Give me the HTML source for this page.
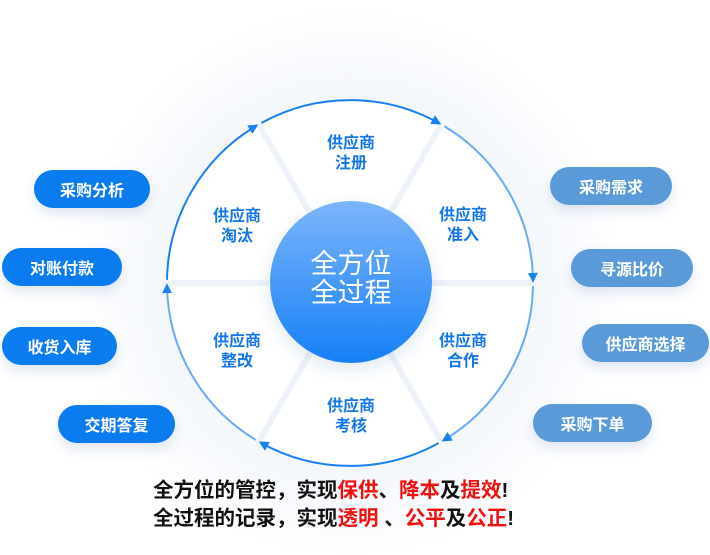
<!DOCTYPE html>
<html><head><meta charset="utf-8"><style>
html,body{margin:0;padding:0;background:#fff;}
body{width:710px;height:555px;position:relative;overflow:hidden;font-family:"Liberation Sans","Noto Sans CJK SC",sans-serif;}
.pill{position:absolute;height:38px;border-radius:19px;color:#fff;font-size:16px;font-weight:bold;display:flex;align-items:center;justify-content:center;box-shadow:0 6px 12px rgba(40,90,160,0.15);}
.l{background:#0b7cf0;}
.r{background:#5a9ad8;}
.bt{position:absolute;left:153px;font-size:20.5px;font-weight:bold;color:#111;line-height:28px;white-space:nowrap;}
.red{color:#f01010;}
</style></head><body>
<svg width="710" height="555" style="position:absolute;left:0;top:0">
<defs>
<radialGradient id="bg" cx="50%" cy="50%" r="50%">
<stop offset="0.7" stop-color="#f4f7fc"/><stop offset="1" stop-color="#ffffff"/>
</radialGradient>
<linearGradient id="cg" x1="0" y1="0" x2="0" y2="1">
<stop offset="0" stop-color="#7cb4fb"/><stop offset="1" stop-color="#1680f6"/>
</linearGradient>
<marker id="ah" markerWidth="10" markerHeight="10" refX="7" refY="5" orient="auto" markerUnits="userSpaceOnUse">
<path d="M0,0 L10,5 L0,10 Z" fill="#1a7ff0"/>
</marker>
<filter id="sh" x="-20%" y="-20%" width="140%" height="140%"><feDropShadow dx="0" dy="6" stdDeviation="8" flood-color="#2a5fa8" flood-opacity="0.15"/></filter>
</defs>
<circle cx="350" cy="283" r="275" fill="url(#bg)"/>
<circle cx="350" cy="283" r="183" fill="#fff"/>
<g stroke="#edf2f9" stroke-width="6">
<line x1="431" y1="283" x2="533" y2="283"/>
<line x1="269" y1="283" x2="167" y2="283"/>
<line x1="390" y1="213" x2="441" y2="125"/>
<line x1="310" y1="213" x2="259" y2="125"/>
<line x1="390" y1="353" x2="441" y2="441"/>
<line x1="310" y1="353" x2="259" y2="441"/>
</g>
<g fill="none" stroke="#1a7ff0" stroke-width="2" marker-end="url(#ah)">
<path d="M261.3,123 A183,183 0 0 1 438.7,123"/>
<path d="M444.2,126.1 A183,183 0 0 1 533,279.8" stroke="#6aaaf5"/>
<path d="M533,286.2 A183,183 0 0 1 444.2,439.9" stroke="#6aaaf5"/>
<path d="M438.7,443 A183,183 0 0 1 261.3,443"/>
<path d="M255.8,439.9 A183,183 0 0 1 167,286.2" stroke="#6aaaf5"/>
<path d="M167,279.8 A183,183 0 0 1 255.8,126.1"/>
</g>
<circle cx="351" cy="282" r="81" fill="url(#cg)" filter="url(#sh)"/>
<g fill="#fff" font-size="27" text-anchor="middle" font-family="Liberation Sans,Noto Sans CJK SC,sans-serif">
<text x="351" y="273">全方位</text>
<text x="351" y="302">全过程</text>
</g>
<g fill="#1577e6" font-size="16" font-weight="bold" text-anchor="middle" font-family="Liberation Sans,Noto Sans CJK SC,sans-serif">
<text x="351" y="148">供应商</text><text x="351" y="168">注册</text>
<text x="463" y="220">供应商</text><text x="463" y="240">准入</text>
<text x="463" y="346">供应商</text><text x="463" y="366">合作</text>
<text x="351" y="411">供应商</text><text x="351" y="431">考核</text>
<text x="237" y="346">供应商</text><text x="237" y="366">整改</text>
<text x="237" y="221">供应商</text><text x="237" y="241">淘汰</text>
</g>
</svg>
<div class="pill l" style="left:34px;top:170px;width:116px">采购分析</div>
<div class="pill l" style="left:2px;top:248px;width:120px">对账付款</div>
<div class="pill l" style="left:2px;top:327px;width:115px">收货入库</div>
<div class="pill l" style="left:58px;top:405px;width:117px">交期答复</div>
<div class="pill r" style="left:550px;top:167px;width:122px">采购需求</div>
<div class="pill r" style="left:571px;top:249px;width:122px">寻源比价</div>
<div class="pill r" style="left:582px;top:324px;width:127px">供应商选择</div>
<div class="pill r" style="left:533px;top:404px;width:119px">采购下单</div>
<div class="bt" style="top:477px">全方位的管控，实现<span class="red">保供</span>、<span class="red">降本</span>及<span class="red">提效</span>!</div>
<div class="bt" style="top:505px">全过程的记录，实现<span class="red">透明</span> 、<span class="red">公平</span>及<span class="red">公正</span>!</div>
</body></html>
